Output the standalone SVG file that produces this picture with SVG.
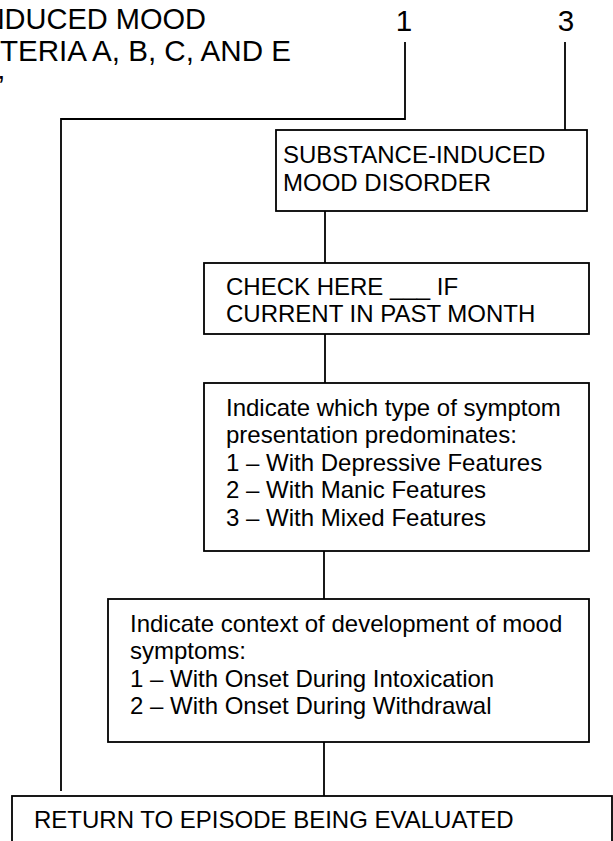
<svg xmlns="http://www.w3.org/2000/svg" width="613" height="841" viewBox="0 0 613 841">
  <style>
    .box { fill: #ffffff; stroke: #000000; stroke-width: 1.8; }
    .conn { fill: none; stroke: #000000; stroke-width: 1.8; }
    .t { font-family: "Liberation Sans", Arial, sans-serif; font-size: 24px; fill: #000000; }
    .big { font-family: "Liberation Sans", Arial, sans-serif; font-size: 29.6px; fill: #000000; }
  </style>
  <rect x="0" y="0" width="613" height="841" fill="#ffffff"/>

  <g id="header">
    <text class="big" x="206" y="29" text-anchor="end" style="font-size:29px">NDUCED MOOD</text>
    <text class="big" x="291" y="61" text-anchor="end">TERIA A, B, C, AND E</text>
    <text class="big" x="-2" y="96">’</text>
    <text class="big" x="404" y="31" text-anchor="middle">1</text>
    <text class="big" x="566" y="31" text-anchor="middle">3</text>
  </g>

  <g id="connectors">
    <polyline class="conn" points="405,42 405,119 61,119 61,791"/>
    <line class="conn" x1="565" y1="42" x2="565" y2="130"/>
    <line class="conn" x1="325" y1="211" x2="325" y2="263"/>
    <line class="conn" x1="325" y1="334" x2="325" y2="383"/>
    <line class="conn" x1="324" y1="551" x2="324" y2="599"/>
    <line class="conn" x1="324" y1="742" x2="324" y2="796"/>
  </g>

  <g id="node-substance">
    <rect class="box" x="276" y="130" width="311" height="81"/>
    <text class="t" x="283" y="163">SUBSTANCE-INDUCED</text>
    <text class="t" x="283" y="191">MOOD DISORDER</text>
  </g>

  <g id="node-check">
    <rect class="box" x="204" y="263" width="385" height="71"/>
    <text class="t" x="226" y="295">CHECK HERE ___ IF</text>
    <text class="t" x="226" y="322">CURRENT IN PAST MONTH</text>
  </g>

  <g id="node-type">
    <rect class="box" x="204" y="383" width="385" height="168"/>
    <text class="t" x="226" y="416">Indicate which type of symptom</text>
    <text class="t" x="226" y="443">presentation predominates:</text>
    <text class="t" x="226" y="471">1 – With Depressive Features</text>
    <text class="t" x="226" y="498">2 – With Manic Features</text>
    <text class="t" x="226" y="526">3 – With Mixed Features</text>
  </g>

  <g id="node-context">
    <rect class="box" x="108" y="599" width="481" height="143"/>
    <text class="t" x="130" y="632">Indicate context of development of mood</text>
    <text class="t" x="130" y="659">symptoms:</text>
    <text class="t" x="130" y="687">1 – With Onset During Intoxication</text>
    <text class="t" x="130" y="714">2 – With Onset During Withdrawal</text>
  </g>

  <g id="node-return">
    <rect class="box" x="12" y="796" width="600" height="80"/>
    <text class="t" x="34" y="828">RETURN TO EPISODE BEING EVALUATED</text>
  </g>
</svg>
